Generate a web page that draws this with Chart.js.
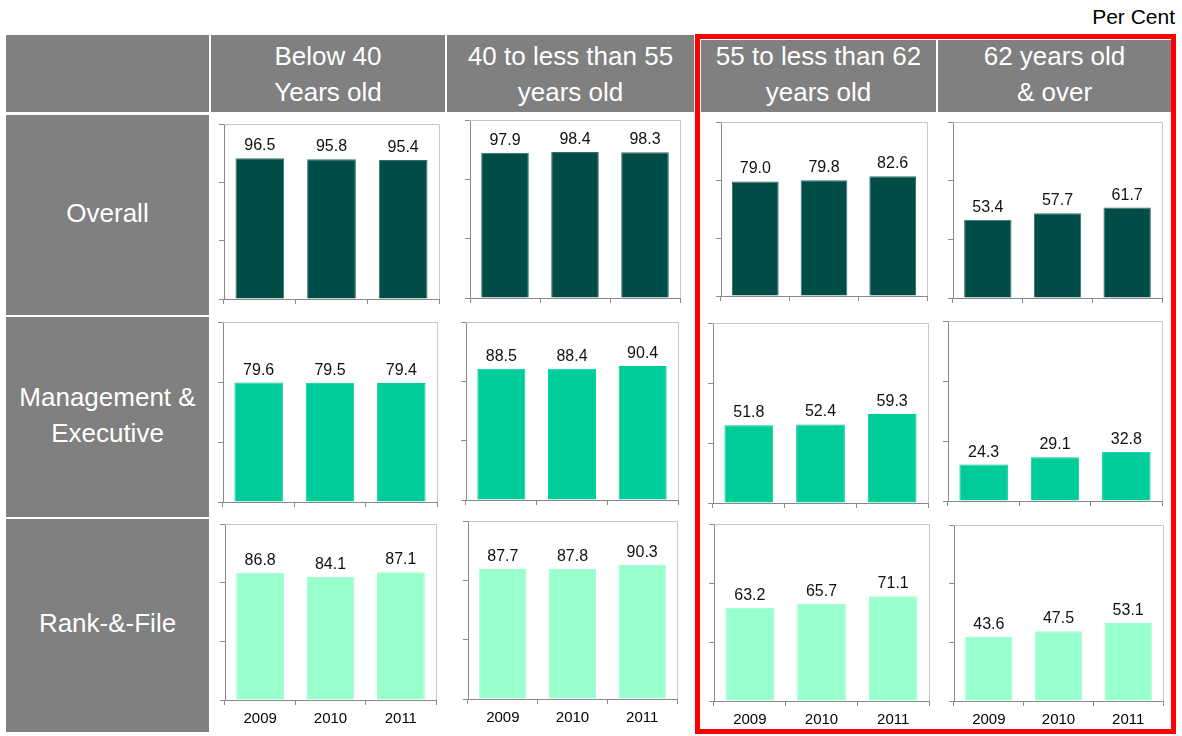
<!DOCTYPE html>
<html>
<head>
<meta charset="utf-8">
<title>Per Cent by age group, 2009-2011</title>
<script src="https://cdn.jsdelivr.net/npm/chart.js@4.4.1/dist/chart.umd.min.js"></script>
<style>
  html, body { margin: 0; padding: 0; background: #fff; }
  body { width: 1182px; height: 736px; position: relative; overflow: hidden;
         font-family: "Liberation Sans", Arial, Helvetica, sans-serif; }
  .cell { position: absolute; background: #808080; color: #fff; font-size: 26px;
          line-height: 36px; text-align: center; box-sizing: border-box; }
  .head > div { position: absolute; left: 0; right: 0; }
  .rowlab { display: flex; justify-content: center; align-items: center; padding-bottom: 5px; }
  .panel { position: absolute; display: block; }
  #unit { position: absolute; right: 7px; top: 5px; font-size: 21px; line-height: 24px; color: #000; }
  #focus { position: absolute; border: 5px solid #ff0000; box-sizing: border-box; pointer-events: none; }
</style>
</head>
<body>
<div id="unit">Per Cent</div>
<div id="focus" style="left:695px; top:34px; width:481px; height:700px;"></div>

<script>
// ---- data ----
const years = ['2009', '2010', '2011'];
const ageGroups = [
  ['Below 40', 'Years old'],
  ['40 to less than 55', 'years old'],
  ['55 to less than 62', 'years old'],
  ['62 years old', '& over']
];
const rowLabels = [
  ['Overall'],
  ['Management &', 'Executive'],
  ['Rank-&-File']
];
// one inner array per age group, values for 2009, 2010, 2011
const overall     = [[96.5, 95.8, 95.4], [97.9, 98.4, 98.3], [79.0, 79.8, 82.6], [53.4, 57.7, 61.7]];
const management  = [[79.6, 79.5, 79.4], [88.5, 88.4, 90.4], [51.8, 52.4, 59.3], [24.3, 29.1, 32.8]];
const rankAndFile = [[86.8, 84.1, 87.1], [87.7, 87.8, 90.3], [63.2, 65.7, 71.1], [43.6, 47.5, 53.1]];
const yMax = 120;
const yStep = 40;

// ---- look ----
const FONT = '"Liberation Sans", Arial, Helvetica, sans-serif';
const rowSeries = [overall, management, rankAndFile];
const rowFill = ['#004c46', '#00cc99', '#99ffcc'];
const rowEdge = ['#35706b', '#00cc99', '#99ffcc'];

// header columns: [left, right, top]; the first one is the empty corner cell
const headCols = [[6, 209, 35], [211, 445, 35], [447, 694, 35], [701, 936, 40], [938, 1171, 40]];
const headBottom = 112;
const headTextTop = 38;
// row label cells: [top, bottom]
const rowBands = [[115, 315], [317, 517], [519, 732]];
const labelCol = [6, 209];
// plot area of each small chart: [left, top, right, bottom]
const plotRects = [
  [[224, 124, 439, 299], [470, 120, 680, 298], [721, 122, 927, 296], [953, 122, 1162, 298]],
  [[223, 322, 437, 502], [466, 322, 678, 500], [713, 323, 928, 503], [948, 321, 1162, 501]],
  [[225, 524, 436, 700], [468, 521, 677, 699], [714, 524, 929, 701], [954, 525, 1163, 701]]
];

function addCell(cls, left, top, width, height, lines, innerTop) {
  const d = document.createElement('div');
  d.className = 'cell ' + cls;
  d.style.left = left + 'px';
  d.style.top = top + 'px';
  d.style.width = width + 'px';
  d.style.height = height + 'px';
  const inner = document.createElement('div');
  if (innerTop !== undefined) inner.style.top = innerTop + 'px';
  inner.innerHTML = lines.map(s => s.replace(/&/g, '&amp;')).join('<br>');
  d.appendChild(inner);
  document.body.insertBefore(d, document.getElementById('focus'));
}

// column headers
headCols.forEach(([l, r, t], i) => {
  const lines = i === 0 ? [] : ageGroups[i - 1];
  addCell('head', l, t, r - l, headBottom - t, lines, headTextTop - t);
});
// row labels
rowBands.forEach(([t, b], i) => {
  addCell('rowlab', labelCol[0], t, labelCol[1] - labelCol[0], b - t, rowLabels[i]);
});

// light frame on the top and right of each plot area
const framePlugin = {
  id: 'frame',
  beforeDatasetsDraw(chart) {
    const { ctx, chartArea: { left, top, right, bottom } } = chart;
    ctx.save();
    ctx.strokeStyle = '#c6c6c6';
    ctx.lineWidth = 1;
    ctx.beginPath();
    ctx.moveTo(left, top + 0.5);
    ctx.lineTo(right + 0.5, top + 0.5);
    ctx.lineTo(right + 0.5, bottom);
    ctx.stroke();
    ctx.restore();
  }
};

// value printed above each bar
const valueLabels = {
  id: 'valueLabels',
  afterDatasetsDraw(chart) {
    const ctx = chart.ctx;
    const ds = chart.data.datasets[0];
    ctx.save();
    ctx.font = '16px ' + FONT;
    ctx.fillStyle = '#111';
    ctx.textAlign = 'center';
    ctx.textBaseline = 'alphabetic';
    chart.getDatasetMeta(0).data.forEach((bar, i) => {
      ctx.fillText(ds.data[i].toFixed(1), bar.x, bar.y - 8);
    });
    ctx.restore();
  }
};

const PAD_TOP = 2, PAD_RIGHT = 2, Y_AXIS_W = 6;

rowSeries.forEach((series, r) => {
  const isBottom = r === rowSeries.length - 1;
  const xAxisH = isBottom ? 30 : 6;
  series.forEach((values, c) => {
    const [x1, y1, x2, y2] = plotRects[r][c];
    const w = (x2 - x1) + Y_AXIS_W + PAD_RIGHT;
    const h = (y2 - y1) + PAD_TOP + xAxisH;
    const cv = document.createElement('canvas');
    cv.className = 'panel';
    cv.width = w;
    cv.height = h;
    cv.style.width = w + 'px';
    cv.style.height = h + 'px';
    cv.style.left = (x1 - Y_AXIS_W) + 'px';
    cv.style.top = (y1 - PAD_TOP) + 'px';
    document.body.insertBefore(cv, document.getElementById('focus'));

    new Chart(cv, {
      type: 'bar',
      data: {
        labels: years,
        datasets: [{
          data: values,
          backgroundColor: rowFill[r],
          borderColor: rowEdge[r],
          borderWidth: 1,
          barPercentage: 0.68,
          categoryPercentage: 1
        }]
      },
      options: {
        responsive: false,
        animation: false,
        devicePixelRatio: 1,
        layout: { padding: { top: PAD_TOP, right: PAD_RIGHT, left: 0, bottom: 0 } },
        plugins: { legend: { display: false }, tooltip: { enabled: false } },
        scales: {
          x: {
            offset: true,
            grid: { offset: true, drawOnChartArea: false, drawTicks: true, tickLength: 5, color: '#8a8a8a' },
            border: { color: '#8a8a8a', width: 1 },
            ticks: { display: isBottom, color: '#000', font: { size: 15, family: FONT }, padding: 5, maxRotation: 0 },
            afterFit(s) { s.height = xAxisH; }
          },
          y: {
            min: 0,
            max: yMax,
            ticks: { display: false, stepSize: yStep },
            grid: { drawOnChartArea: false, drawTicks: true, tickLength: 5, color: '#8a8a8a' },
            border: { color: '#8a8a8a', width: 1 },
            afterFit(s) { s.width = Y_AXIS_W; }
          }
        }
      },
      plugins: [framePlugin, valueLabels]
    });
  });
});
</script>
</body>
</html>
